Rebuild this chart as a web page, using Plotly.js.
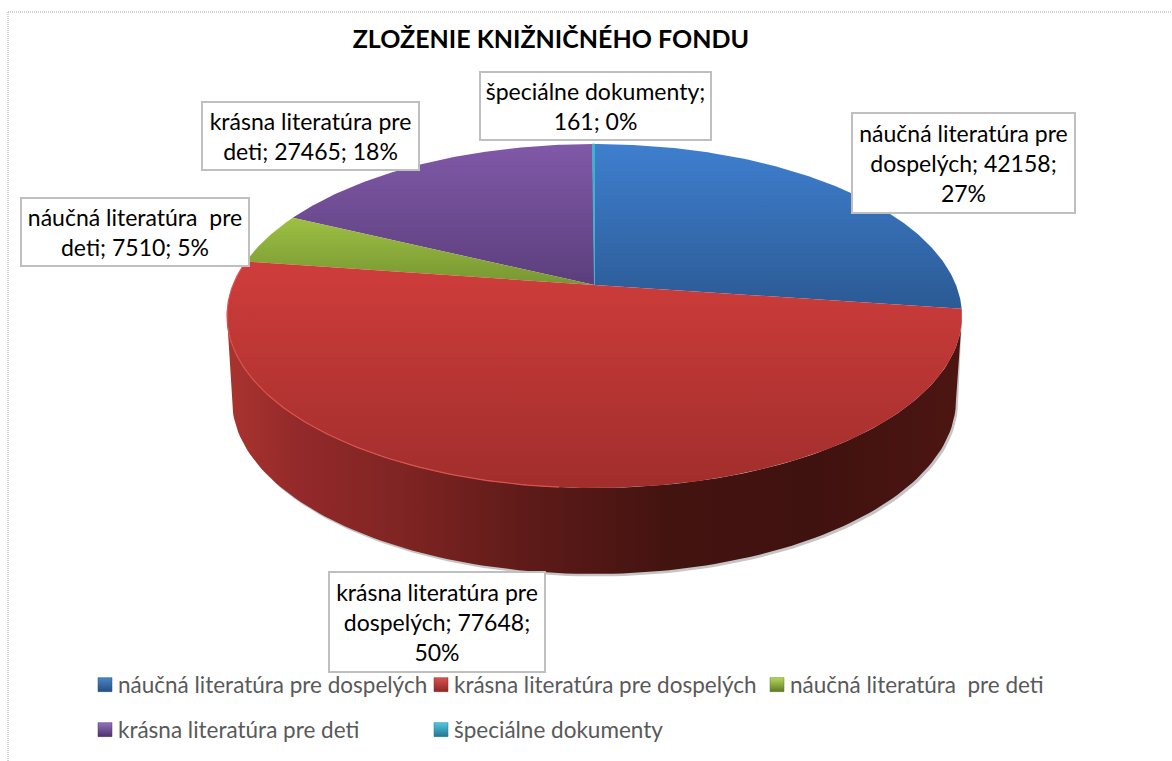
<!DOCTYPE html>
<html>
<head>
<meta charset="utf-8">
<script src="https://cdn.plot.ly/plotly-3.0.1.min.js"></script>
<style>html,body{margin:0;padding:0;background:#fff}#chart{width:1172px;height:761px}</style>
</head>
<body>
<div id="chart"></div>
<script>
const categories = ["náučná literatúra pre dospelých","krásna literatúra pre dospelých","náučná literatúra  pre deti","krásna literatúra pre deti","špeciálne dokumenty"];
const bookCounts = [42158,77648,7510,27465,161];
const percents = [27,50,5,18,0];
const labelBreaks = [
  ["náučná literatúra pre","dospelých; 42158;","27%"],
  ["krásna literatúra pre","dospelých; 77648;","50%"],
  ["náučná literatúra  pre","deti; 7510; 5%"],
  ["krásna literatúra pre","deti; 27465; 18%"],
  ["špeciálne dokumenty;","161; 0%"]
];
const labelBoxes = [[852,113,1075,213],[329,572,545,672],[21,198,249,266],[202,102,419,170],[480,72,711,140]];
const topColors = [["#3f7fcf","#2b5a94"],["#cf3d3b","#a12e2c"],["#9dc043","#779632"],["#8059a8","#5c3e7c"],["#3fb4d2","#2f8aa6"]];
const swatchTop = ["#4a86c8","#d9534f","#b5d95a","#9370bd","#4fc8e4"];
const swatchBottom = ["#274f80","#8f2725","#5f7a25","#4d3269","#24778f"];

// Projected disc geometry (screen pixels).
const CX=594.5, CY=316, RX=367.5, RY=172, TILT=-0.18;
const BCX=594, BCY=400, BRX=362, BRY=174;

const total = bookCounts.reduce((a,b)=>a+b,0);
function project(th,r){
  const u=r*Math.sin(th), v=-r*Math.cos(th), d=1+TILT*v;
  return [CX+RX*u*Math.sqrt(1-TILT*TILT)/d, CY+RY*(v+TILT)/d];
}
function sector(a0,a1){
  const c=project(0,0), xs=[c[0]], ys=[c[1]];
  const n=Math.max(2,Math.ceil((a1-a0)*80));
  for(let i=0;i<=n;i++){const p=project(a0+(a1-a0)*i/n,1);xs.push(p[0]);ys.push(p[1]);}
  xs.push(c[0]);ys.push(c[1]);
  return {xs,ys};
}
function side(dx,dy){
  const xs=[],ys=[];
  for(let i=0;i<=120;i++){const t=Math.PI*i/120;xs.push(CX+RX*Math.cos(t));ys.push(CY+RY*Math.sin(t));}
  const bx=[],by=[];
  for(let i=120;i>=0;i--){const t=Math.PI*i/120;bx.push(BCX+BRX*Math.cos(t)+dx);by.push(BCY+BRY*Math.sin(t)+dy);}
  return {x:xs.concat(bx).concat([xs[0]]),y:ys.concat(by).concat([ys[0]])};
}

const traces=[];
const sh=side(2,2.5);
traces.push({type:"scatter",mode:"lines",x:sh.x,y:sh.y,fill:"toself",fillcolor:"rgba(90,90,90,0.35)",line:{width:0},hoverinfo:"skip",showlegend:false});
const sd=side(0,0);
traces.push({type:"scatter",mode:"lines",x:sd.x,y:sd.y,fill:"toself",line:{width:0},hoverinfo:"skip",showlegend:false,
  fillgradient:{type:"horizontal",start:227,stop:962,colorscale:[[0,"#a9342f"],[0.1,"#93292a"],[0.25,"#7d2422"],[0.42,"#5c1a18"],[0.6,"#431310"],[0.8,"#40120f"],[1,"#4c1512"]]}});
let cum=0;
const angles=bookCounts.map(v=>{const a0=cum/total*2*Math.PI;cum+=v;return [a0,cum/total*2*Math.PI];});
[3,2,0,1,4].forEach(i=>{
  const s=sector(angles[i][0],angles[i][1]);
  traces.push({type:"scatter",mode:"lines",x:s.xs,y:s.ys,fill:"toself",line:{width:i===4?1:0,color:topColors[i][0]},hoverinfo:"skip",showlegend:false,name:categories[i],
    fillgradient:{type:"vertical",start:Math.min(...s.ys),stop:Math.max(...s.ys),colorscale:[[0,topColors[i][0]],[1,topColors[i][1]]]}});
});
// Rim highlight along the left front edge of the red slice.
const rim=sector(angles[1][0],angles[1][1]);
const rimIdx=rim.xs.map((x,i)=>i).filter(i=>i>0&&i<rim.xs.length-1&&rim.xs[i]<560);
traces.push({type:"scatter",mode:"lines",x:rimIdx.map(i=>rim.xs[i]),y:rimIdx.map(i=>rim.ys[i]),line:{width:1.2,color:"#d9524e"},hoverinfo:"skip",showlegend:false});
// Legend entries.
categories.forEach((c,i)=>{
  traces.push({type:"scatter",mode:"markers",x:[null],y:[null],name:c,legend:i<3?"legend":"legend2",showlegend:true,
    marker:{symbol:"square",size:14,color:swatchTop[i],gradient:{type:"vertical",color:swatchBottom[i]},line:{width:0.5,color:swatchBottom[i]}}});
});

const annotations=labelBoxes.map((b,i)=>({
  xref:"x",yref:"y",x:(b[0]+b[2])/2,y:(b[1]+b[3])/2,xanchor:"center",yanchor:"middle",
  width:b[2]-b[0]-2,height:b[3]-b[1]-2,align:"center",valign:"middle",showarrow:false,
  bgcolor:"#ffffff",bordercolor:"#bfbfbf",borderwidth:2,borderpad:0,
  text:labelBreaks[i].join("<br>"),font:{family:"Lato, sans-serif",size:23,color:"#000000"}
}));
const legendBase={orientation:"h",xref:"paper",yref:"paper",xanchor:"left",yanchor:"middle",bgcolor:"rgba(0,0,0,0)",
  entrywidthmode:"pixels",entrywidth:291,itemclick:false,itemdoubleclick:false,font:{family:"Lato, sans-serif",size:22.5,color:"#595959"}};
const layout={
  width:1172,height:761,margin:{l:0,r:0,t:0,b:0},paper_bgcolor:"#ffffff",plot_bgcolor:"#ffffff",
  title:{text:"<b>ZLOŽENIE KNIŽNIČNÉHO FONDU</b>",x:0.47,xref:"paper",xanchor:"center",y:0.949,yref:"container",yanchor:"middle",font:{family:"Lato, sans-serif",size:25,color:"#000000"}},
  xaxis:{range:[0,1172],visible:false,fixedrange:true},
  yaxis:{range:[761,0],visible:false,fixedrange:true},
  legend:Object.assign({},legendBase,{x:85/1172,y:1-685/761}),
  legend2:Object.assign({},legendBase,{x:85/1172,y:1-730/761}),
  annotations:annotations,
  shapes:[
    {type:"line",xref:"x",yref:"y",x0:8,y0:12,x1:1172,y1:12,line:{color:"#a6a6a6",width:1,dash:"1px,1px"}},
    {type:"line",xref:"x",yref:"y",x0:8,y0:12,x1:8,y1:761,line:{color:"#a6a6a6",width:1,dash:"1px,1px"}}
  ],
  showlegend:true
};
function tightenLegend(gd){
  gd.querySelectorAll(".legendtext, .legend2text").forEach(t=>t.setAttribute("x","33"));
}
Plotly.newPlot("chart",traces,layout,{displayModeBar:false}).then(gd=>{
  tightenLegend(gd);
  gd.on("plotly_afterplot",()=>tightenLegend(gd));
  setTimeout(()=>tightenLegend(gd),50);
});
</script>
</body>
</html>
